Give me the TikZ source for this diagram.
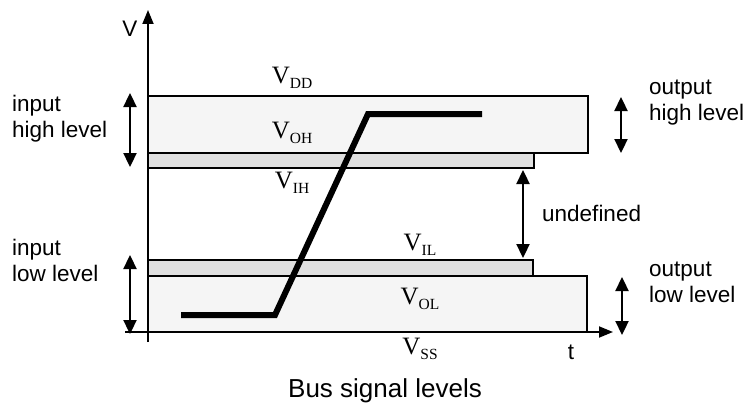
\documentclass[tikz,border=0pt]{standalone}
\usepackage{fontspec}
\setmainfont{Liberation Sans}
\newfontfamily\tmsfont{Liberation Serif}
\usetikzlibrary{arrows.meta}
\newcommand\vlab[1]{{\tmsfont\fontsize{25}{25}\selectfont V\raisebox{-5.5pt}{\fontsize{15.5}{15.5}\selectfont #1}}}
\tikzset{
  lbl/.style={font=\fontsize{22.5}{26}\selectfont, align=left, inner sep=0pt},
  vl/.style={inner sep=0pt, anchor=base},
  dbl/.style={line width=2.3pt, {Triangle[width=13pt,length=14pt]}-{Triangle[width=13pt,length=14pt]}},
  axis/.style={line width=1.8pt, -{Triangle[width=11pt,length=14pt]}},
  outer/.style={draw, line width=1.5pt, fill=black!4},
  strip/.style={draw, line width=1.5pt, fill=black!12},
  sig/.style={line width=6pt, line join=miter},
}
\begin{document}
\begin{tikzpicture}[x=1pt,y=-1pt]
\useasboundingbox (0,0) rectangle (752,404);
% boxes
\draw[outer] (148,96) rectangle (588,153);
\draw[strip] (148,153) rectangle (534,168);
\draw[strip] (148,260) rectangle (533,276);
\draw[outer] (148,276) rectangle (587,332);
% axes
\coordinate (ybot) at (148,342);
\coordinate (ytop) at (148,10);
\coordinate (xl) at (125,332);
\coordinate (xr) at (613,332);
\draw[axis] (ybot) -- (ytop);
\draw[axis] (xl) -- (xr);
\node[lbl, anchor=base] (V) at (130,37) {V};
\node[lbl, anchor=base] (t) at (571,359) {t};
% signal
\coordinate (s1) at (181,315);
\coordinate (s2) at (275,315);
\coordinate (s3) at (368,114);
\coordinate (s4) at (482,114);
\draw[sig] (s1) -- (s2) -- (s3) -- (s4);
% level labels
\node[vl] (vdd) at (292,83) {\vlab{DD}};
\node[vl] (voh) at (292,138) {\vlab{OH}};
\node[vl] (vih) at (292,188) {\vlab{IH}};
\node[vl] (vil) at (420,250) {\vlab{IL}};
\node[vl] (vol) at (420,304) {\vlab{OL}};
\node[vl] (vss) at (420,354) {\vlab{SS}};
% arrows
\coordinate (ih1) at (130,93);  \coordinate (ih2) at (130,167);
\coordinate (il1) at (130,255); \coordinate (il2) at (130,334);
\coordinate (oh1) at (621,97);  \coordinate (oh2) at (621,153);
\coordinate (ol1) at (622,277); \coordinate (ol2) at (622,335);
\coordinate (u1) at (523,170);  \coordinate (u2) at (523,258);
\draw[dbl] (ih1) -- (ih2);
\draw[dbl] (il1) -- (il2);
\draw[dbl] (oh1) -- (oh2);
\draw[dbl] (ol1) -- (ol2);
\draw[dbl] (u1) -- (u2);
% side labels
\node[lbl, anchor=base west] (inh) at (12,137) {input\\high level};
\node[lbl, anchor=base west] (inl) at (12,281) {input\\low level};
\node[lbl, anchor=base west] (outh) at (649,120) {output\\high level};
\node[lbl, anchor=base west] (outl) at (649,302) {output\\low level};
\node[lbl, anchor=base west] (und) at (542,221) {undefined};
% caption
\node[inner sep=0pt, anchor=base, font=\fontsize{26}{30}\selectfont] (cap) at (385,397) {Bus signal levels};
\end{tikzpicture}
\end{document}
